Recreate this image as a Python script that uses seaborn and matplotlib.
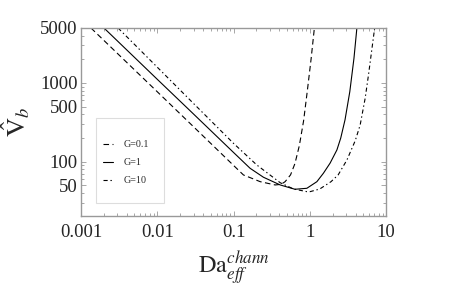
import numpy as np
import pandas as pd
import seaborn as sns
import matplotlib
matplotlib.use("Agg")
import matplotlib.pyplot as plt
from matplotlib.patches import Rectangle
from matplotlib.ticker import FixedLocator, FixedFormatter, LogLocator, NullFormatter

# curvas (Da_eff, V_b)
da_g01 = [0.00135, 0.01, 0.03, 0.1, 0.135, 0.224, 0.352, 0.42, 0.475, 0.56, 0.64, 0.73, 0.83, 0.93, 1.04, 1.15]
vb_g01 = [5000, 774, 277, 89.7, 67.8, 55.7, 50.6, 51.5, 55.7, 68, 95, 160, 330, 800, 2000, 5000]

da_g1 = [0.002, 0.01, 0.03, 0.1, 0.165, 0.247, 0.41, 0.64, 0.916, 1.24, 1.51, 1.85, 2.27, 2.55, 2.9, 3.35, 3.8, 4.15]
vb_g1 = [5000, 1114, 402, 131, 82.4, 63.4, 50.6, 44.6, 45.9, 55.7, 71.3, 96, 141, 200, 340, 774, 2060, 5000]

da_g10 = [0.00306, 0.01, 0.03, 0.1, 0.202, 0.41, 0.611, 0.916, 1.01, 1.35, 1.9, 2.36, 3.07, 3.95, 4.58, 5.33, 5.89, 7.1]
vb_g10 = [5000, 1588, 547, 171, 90.8, 54, 45, 41.6, 41.6, 44.9, 55.7, 68, 105, 185, 292, 640, 1264, 5000]

rotulos = ["G=0.1", "G=1", "G=10"]

x_ticks = [0.001, 0.01, 0.1, 1, 10]
x_labels = ["0.001", "0.01", "0.1", "1", "10"]
y_ticks = [50, 100, 500, 1000, 5000]
y_labels = ["50", "100", "500", "1000", "5000"]

sns.set_style("ticks")
plt.rcParams["font.family"] = ["Liberation Serif", "DejaVu Serif"]
plt.rcParams["mathtext.fontset"] = "stix"
plt.rcParams["lines.scale_dashes"] = False

fig = plt.figure(figsize=(4.63, 2.88), dpi=100)
ax = fig.add_axes([0.175, 0.25, 0.6587, 0.6528])

estilos = [(0, (4, 2.5)), "-", (0, (3, 2, 1, 2))]
dados = [(da_g01, vb_g01), (da_g1, vb_g1), (da_g10, vb_g10)]
for (xs, ys), rot, ls in zip(dados, rotulos, estilos):
    df = pd.DataFrame({"da": xs, "vb": ys})
    sns.lineplot(data=df, x="da", y="vb", ax=ax, color="black", lw=0.8,
                 linestyle=ls, label=rot, sort=False, estimator=None)

ax.set_xscale("log")
ax.set_yscale("log")
ax.set_xlim(0.001, 10)
ax.set_ylim(20.4, 5000)

ax.xaxis.set_major_locator(FixedLocator(x_ticks))
ax.xaxis.set_major_formatter(FixedFormatter(x_labels))
ax.xaxis.set_minor_locator(LogLocator(base=10, subs=np.arange(2, 10)))
ax.xaxis.set_minor_formatter(NullFormatter())
ax.yaxis.set_major_locator(FixedLocator(y_ticks))
ax.yaxis.set_major_formatter(FixedFormatter(y_labels))
ax.yaxis.set_minor_locator(LogLocator(base=10, subs=np.arange(2, 10)))
ax.yaxis.set_minor_formatter(NullFormatter())

for s in ax.spines.values():
    s.set_color("#999999")
    s.set_linewidth(1.0)
ax.tick_params(which="both", direction="in", top=True, right=True, color="#999999", width=0.6)
ax.tick_params(which="major", length=3.5, labelsize=13.5)
ax.tick_params(which="minor", length=2)
ax.tick_params(axis="x", which="major", pad=6)
ax.tick_params(axis="y", which="major", pad=2.5)

ax.set_xlabel(r"$\mathrm{Da}_{eff}^{chann}$", fontsize=17.5, labelpad=6)
ax.set_ylabel(r"$\hat{\mathrm{V}}_b$", fontsize=19, labelpad=6)

# caixa da legenda
ax.add_patch(Rectangle((0.048, 0.069), 0.224, 0.454, transform=ax.transAxes,
                       fill=False, edgecolor="#dddddd", lw=0.8, zorder=1))
ax.legend(loc="upper left", bbox_to_anchor=(0.05, 0.44), frameon=False, fontsize=7.2,
          handlelength=1.0, handletextpad=1.0, labelspacing=0.9, borderpad=0.2)

fig.savefig("out.png", dpi=100)
